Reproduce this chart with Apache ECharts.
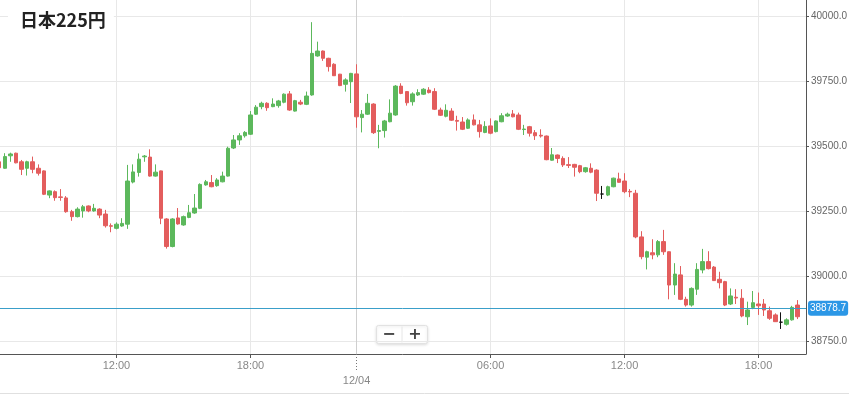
<!DOCTYPE html>
<html><head><meta charset="utf-8">
<script src="https://cdn.jsdelivr.net/npm/echarts@6/dist/echarts.min.js"></script>
<style>html,body{margin:0;padding:0;background:#fff}#c{width:849px;height:395px}</style>
</head><body><div id="c"></div>
<script>
const titleText = '日本225円';
// trading sessions (15-minute candles)
const session1 = { day: '12/03', start: '06:45', count: 56 };
const session2 = { day: '12/03', start: '22:00', count: 89 };
const tickTimes = ['12/03 12:00', '12/03 18:00', '12/04 00:00', '12/04 06:00', '12/04 12:00', '12/04 18:00'];
const tickLabels = ['12:00', '18:00', '12/04', '06:00', '12:00', '18:00'];
const dayBreak = '12/04 00:00';
const lastPrice = 38878.7;
// [open, close, low, high]
const candles = [
[39442,39419,39414,39449],[39417,39462,39415,39475],[39465,39472,39442,39477],[39475,39438,39436,39477],
[39442,39413,39391,39449],[39417,39442,39389,39446],[39442,39413,39398,39462],[39417,39398,39389,39432],
[39407,39317,39314,39409],[39314,39330,39302,39332],[39327,39304,39292,39332],[39307,39305,39292,39337],
[39303,39250,39246,39310],[39250,39231,39215,39257],[39231,39260,39228,39267],[39253,39269,39227,39276],
[39272,39253,39248,39274],[39253,39263,39250,39280],[39260,39237,39225,39263],[39241,39196,39189,39257],
[39196,39194,39171,39205],[39186,39202,39182,39209],[39195,39205,39192,39225],[39202,39368,39184,39430],
[39364,39403,39359,39432],[39401,39452,39385,39474],[39461,39464,39442,39468],[39460,39387,39385,39490],
[39387,39402,39385,39432],[39407,39225,39202,39408],[39222,39116,39108,39225],[39116,39222,39113,39225],
[39226,39203,39200,39264],[39199,39231,39196,39235],[39228,39246,39225,39276],[39245,39264,39242,39318],
[39263,39355,39260,39359],[39353,39365,39350,39372],[39362,39346,39344,39391],[39350,39372,39346,39379],
[39365,39387,39363,39404],[39387,39494,39385,39500],[39495,39526,39491,39545],[39526,39542,39507,39552],
[39542,39555,39535,39560],[39548,39622,39545,39637],[39625,39652,39622,39660],[39654,39667,39644,39673],
[39667,39650,39638,39671],[39654,39664,39652,39686],[39658,39676,39650,39680],[39671,39702,39667,39705],
[39703,39641,39638,39714],[39637,39677,39635,39680],[39671,39664,39660,39680],[39663,39695,39660,39712],
[39699,39859,39696,39979],[39849,39868,39846,39904],[39868,39840,39830,39870],[39840,39808,39789,39842],
[39817,39773,39772,39821],[39779,39735,39733,39780],[39740,39757,39712,39763],[39750,39782,39668,39784],
[39780,39615,39573,39817],[39612,39625,39555,39641],[39625,39667,39622,39703],[39664,39554,39549,39667],
[39559,39562,39494,39584],[39562,39599,39535,39603],[39596,39629,39594,39682],[39622,39733,39619,39737],
[39733,39705,39702,39744],[39712,39669,39658,39714],[39673,39703,39658,39709],[39699,39708,39695,39721],
[39702,39721,39699,39725],[39718,39708,39705,39729],[39712,39644,39641,39725],[39641,39621,39618,39650],
[39617,39640,39613,39663],[39637,39602,39599,39648],[39601,39598,39562,39619],[39595,39567,39564,39614],
[39571,39603,39568,39609],[39603,39584,39582,39624],[39584,39558,39535,39603],[39555,39578,39552,39598],
[39580,39552,39548,39609],[39558,39599,39555,39601],[39596,39619,39594,39629],[39618,39625,39615,39631],
[39626,39615,39613,39641],[39622,39567,39564,39631],[39566,39568,39545,39584],[39577,39552,39539,39580],
[39554,39542,39526,39564],[39544,39541,39535,39567],[39541,39450,39448,39543],[39448,39469,39446,39495],
[39468,39455,39437,39470],[39455,39430,39422,39463],[39431,39428,39418,39460],[39432,39421,39385,39434],
[39427,39404,39398,39430],[39404,39419,39400,39422],[39417,39402,39398,39436],[39410,39321,39291,39413],
[39318,39318,39299,39349],[39314,39346,39310,39350],[39346,39379,39344,39381],[39376,39363,39362,39400],
[39368,39327,39321,39398],[39328,39326,39306,39337],[39321,39153,39148,39334],[39153,39077,39067,39175],
[39075,39096,39028,39100],[39092,39084,39067,39144],[39084,39135,39075,39141],[39135,39096,39084,39180],
[39096,38968,38913,39097],[38968,39010,38930,39052],[39007,38913,38910,39041],[38913,38891,38885,38923],
[38891,38955,38885,38959],[38952,39028,38930,39052],[39026,39058,39013,39107],[39058,39031,39028,39098],
[39037,38985,38984,39041],[38990,38977,38955,39019],[38981,38891,38887,38984],[38895,38926,38891,38955],
[38921,38918,38895,38952],[38917,38849,38844,38952],[38846,38872,38814,38904],[38882,38900,38875,38945],
[38895,38888,38853,38939],[38895,38872,38849,38914],[38869,38840,38834,38885],[38853,38827,38826,38859],
[38825,38825,38799,38863],[38817,38834,38812,38840],[38834,38882,38831,38888],[38891,38846,38837,38910]
];

function pad(n) { return (n < 10 ? '0' : '') + n; }
function buildTimes(seg) {
  const out = [];
  const [hh, mm] = seg.start.split(':').map(Number);
  const m = hh * 60 + mm;
  for (let i = 0; i < seg.count; i++) {
    let t = m + i * 15;
    let d = seg.day;
    if (t >= 1440) { t -= 1440; d = '12/04'; }
    out.push(d + ' ' + pad(Math.floor(t / 60)) + ':' + pad(t % 60));
  }
  return out;
}
const categories = buildTimes(session1).concat(buildTimes(session2));
const seriesData = candles.slice();
while (seriesData.length < categories.length) seriesData.push('-');

const UP = '#5cb85c', DOWN = '#e35d5d';
const GRID_L = -3.6, GRID_R = 43;
const pxPerUnit = 65 / 250;
const yTop = 16.7 - (40250 - 40000) * pxPerUnit;
const yBottom = 16.7 + (40000 - 38500) * pxPerUnit;

function isTick(v) { return tickTimes.indexOf(v) >= 0; }
function labelFor(v) { return tickLabels[tickTimes.indexOf(v)]; }

const chart = echarts.init(document.getElementById('c'), null, { renderer: 'canvas' });
chart.setOption({
  animation: false,
  backgroundColor: '#fff',
  title: {
    text: titleText, left: 8, top: 3, padding: [8, 8, 8, 12], backgroundColor: '#fff',
    textStyle: { fontFamily: 'Noto Sans CJK JP', fontWeight: 'bold', fontSize: 18, color: '#222' }
  },
  grid: [
    { left: GRID_L, right: GRID_R, top: yTop, bottom: 395 - yBottom, containLabel: false, outerBoundsMode: 'none' },
    { left: GRID_L, right: GRID_R, top: 0, bottom: 41, containLabel: false, outerBoundsMode: 'none' }
  ],
  xAxis: [
    { type: 'category', gridIndex: 0, data: categories, boundaryGap: true, show: false },
    {
      type: 'category', gridIndex: 1, data: categories, boundaryGap: true, position: 'bottom',
      axisLine: { show: true, lineStyle: { color: '#555', width: 1 } },
      axisTick: { show: true, alignWithLabel: true, length: 4, lineStyle: { color: '#555' },
        interval: (i, v) => isTick(v) && v !== dayBreak },
      axisLabel: { show: true, interval: (i, v) => isTick(v) && v !== dayBreak, margin: 6,
        fontFamily: 'Liberation Sans', fontSize: 11, color: '#888', formatter: v => labelFor(v) },
      splitLine: { show: true, alignWithLabel: true, interval: (i, v) => isTick(v) && v !== dayBreak,
        lineStyle: { color: '#e8e8e8', width: 1 } }
    },
    {
      type: 'category', gridIndex: 1, data: categories, boundaryGap: true, position: 'bottom',
      axisLine: { show: false },
      axisTick: { show: true, alignWithLabel: true, length: 18,
        lineStyle: { color: '#777', type: [1, 2] }, interval: (i, v) => v === dayBreak },
      axisLabel: { show: true, interval: (i, v) => v === dayBreak, margin: 6,
        fontFamily: 'Liberation Sans', fontSize: 11, color: '#888',
        formatter: v => '{d|' + labelFor(v) + '}', rich: { d: { padding: [15, 0, 0, 0], fontFamily: 'Liberation Sans', fontSize: 11, color: '#888' } } },
      splitLine: { show: true, alignWithLabel: true, interval: (i, v) => v === dayBreak,
        lineStyle: { color: '#cfcfcf', width: 1 } }
    }
  ],
  yAxis: [
    {
      type: 'value', gridIndex: 0, position: 'right', min: 38500, max: 40250, interval: 250,
      axisLine: { show: false },
      axisTick: { show: true, length: 3, lineStyle: { color: '#555' } },
      axisLabel: { show: true, margin: 5, fontFamily: 'Liberation Sans', fontSize: 10, color: '#666',
        formatter: v => v.toFixed(1) },
      splitLine: { show: true, lineStyle: { color: '#e8e8e8', width: 1 } }
    },
    {
      type: 'value', gridIndex: 1, position: 'right', min: 0, max: 1,
      axisLine: { show: true, lineStyle: { color: '#555', width: 1 } },
      axisTick: { show: false }, axisLabel: { show: false }, splitLine: { show: false }
    }
  ],
  series: [
    {
      type: 'candlestick', xAxisIndex: 0, yAxisIndex: 0, data: seriesData, barWidth: 4,
      itemStyle: { color: UP, color0: DOWN, borderColor: UP, borderColor0: DOWN, borderColorDoji: '#111', borderWidth: 1 },
      markLine: {
        silent: true, symbol: ['none', 'none'], animation: false,
        lineStyle: { color: '#3a9fc9', width: 1, type: 'solid' },
        label: { show: true, position: 'end', distance: 2, formatter: () => lastPrice.toFixed(1),
          backgroundColor: '#2b97e6', color: '#fff', fontFamily: 'Liberation Sans', fontSize: 10,
          padding: [3, 2, 2, 2], borderRadius: 3 },
        data: [{ yAxis: lastPrice }]
      }
    }
  ],
  graphic: [
    { type: 'line', shape: { x1: 0, y1: 393.5, x2: 849, y2: 393.5 }, style: { stroke: '#e0e0e0', lineWidth: 1 }, silent: true },
    {
      type: 'group', left: 376, top: 324, silent: true,
      children: [
        { type: 'rect', shape: { x: 0, y: 0, width: 51, height: 18, r: 2 },
          style: { fill: '#fff', stroke: '#e2e2e2', lineWidth: 1, shadowBlur: 3, shadowColor: 'rgba(0,0,0,0.12)', shadowOffsetY: 1 } },
        { type: 'line', shape: { x1: 25.5, y1: 1, x2: 25.5, y2: 17 }, style: { stroke: '#e6e6e6', lineWidth: 1 } },
        { type: 'text', x: 12.5, y: 9, style: { text: '−', font: 'bold 16px "DejaVu Sans"', fill: '#444', align: 'center', verticalAlign: 'middle' } },
        { type: 'text', x: 38.5, y: 9, style: { text: '+', font: 'bold 16px "DejaVu Sans"', fill: '#444', align: 'center', verticalAlign: 'middle' } }
      ]
    }
  ]
});
</script>
</body></html>
